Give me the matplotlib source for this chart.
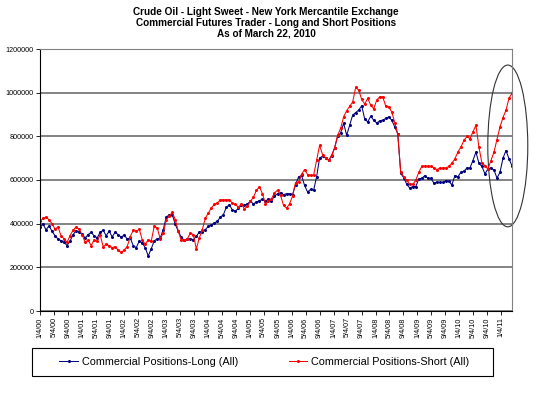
import numpy as np
import matplotlib
matplotlib.use("Agg")
import matplotlib.pyplot as plt
from matplotlib.patches import Ellipse, Rectangle
from matplotlib.ticker import MultipleLocator, StrMethodFormatter

plt.rcParams['font.family'] = ['Liberation Sans', 'DejaVu Sans']

title = ("Crude Oil - Light Sweet - New York Mercantile Exchange\n"
         "Commercial Futures Trader - Long and Short Positions\n"
         "As of March 22, 2010")

date_labels = ["1/4/00", "5/4/00", "9/4/00", "1/4/01", "5/4/01", "9/4/01",
               "1/4/02", "5/4/02", "9/4/02", "1/4/03", "5/4/03", "9/4/03",
               "1/4/04", "5/4/04", "9/4/04", "1/4/05", "5/4/05", "9/4/05",
               "1/4/06", "5/4/06", "9/4/06", "1/4/07", "5/4/07", "9/4/07",
               "1/4/08", "5/4/08", "9/4/08", "1/4/09", "5/4/09", "9/4/09",
               "1/4/10", "5/4/10", "9/4/10", "1/4/11"]

# positions in thousands of contracts
long_pos = [385, 398, 372, 390, 365, 345, 330, 322, 315, 300,
            320, 350, 368, 360, 352, 335, 350, 360, 345, 335,
            360, 370, 345, 365, 340, 360, 350, 338, 348, 330,
            335, 300, 290, 320, 312, 290, 252, 285, 322, 330,
            335, 373, 430, 441, 441, 397, 365, 338, 323, 330,
            330, 327, 342, 362, 364, 373, 388, 394, 403, 411,
            430, 441, 476, 486, 463, 458, 470, 485, 484, 491,
            502, 491, 499, 506, 511, 502, 514, 506, 526, 537,
            542, 533, 537, 537, 533, 579, 614, 621, 575, 545,
            557, 552, 614, 701, 709, 701, 690, 710, 747, 801,
            815, 860, 805, 851, 897, 909, 920, 940, 880, 866,
            892, 874, 861, 871, 874, 882, 889, 874, 843, 812,
            630, 610, 580, 563, 570, 570, 605, 608, 620, 608,
            607, 587, 590, 589, 589, 597, 594, 578, 620, 615,
            635, 640, 655, 655, 689, 728, 677, 662, 628, 651,
            655, 646, 609, 635, 700, 735, 697, 665]

short_pos = [410, 425, 430, 418, 400, 375, 385, 345, 330, 315,
             345, 370, 385, 375, 350, 315, 325, 300, 325, 320,
             350, 295, 305, 300, 290, 295, 278, 268, 280, 295,
             340, 370, 365, 375, 327, 305, 327, 320, 388, 380,
             330, 357, 418, 435, 452, 418, 365, 323, 324, 330,
             357, 350, 285, 335, 373, 426, 448, 473, 488, 495,
             509, 509, 509, 509, 494, 488, 475, 490, 468, 480,
             502, 522, 553, 568, 537, 491, 502, 514, 542, 553,
             530, 484, 471, 491, 526, 588, 591, 626, 648, 625,
             621, 621, 690, 759, 716, 701, 690, 713, 747, 805,
             836, 890, 917, 938, 957, 1024, 1012, 969, 948, 974,
             943, 926, 966, 981, 981, 938, 935, 912, 863, 809,
             635, 615, 598, 580, 580, 600, 635, 662, 664, 663,
             662, 655, 648, 655, 655, 655, 662, 677, 697, 728,
             751, 781, 800, 789, 820, 851, 751, 677, 666, 650,
             689, 728, 785, 843, 886, 920, 974, 997]

long_pos = np.array(long_pos) * 1000
short_pos = np.array(short_pos) * 1000
x = np.arange(len(long_pos))

fig = plt.figure(figsize=(5.45, 3.98), dpi=100)
ax = fig.add_axes([40 / 545, 87 / 398, 472 / 545, 262 / 398])

ax.plot(x, long_pos, color='#000080', lw=0.75, marker='o', ms=1.2,
        label='Commercial Positions-Long (All)')
ax.plot(x, short_pos, color='#ff0000', lw=0.75, marker='o', ms=1.2,
        label='Commercial Positions-Short (All)')

ax.set_ylim(0, 1200000)
ax.set_xlim(0, len(x) - 1)
ax.yaxis.set_major_locator(MultipleLocator(200000))
ax.yaxis.set_major_formatter(StrMethodFormatter('{x:.0f}'))
ax.grid(axis='y', color='#7a7a7a', lw=1.3)
ax.set_axisbelow(True)

tick_step = 4.65
ax.set_xticks(np.arange(len(date_labels)) * tick_step)
ax.set_xticklabels(date_labels, rotation=90)
ax.tick_params(axis='both', labelsize=5.2, length=3, width=0.6, pad=1.5)

for s in ('top', 'right'):
    ax.spines[s].set_color('#808080')
for s in ('left', 'bottom'):
    ax.spines[s].set_color('black')
    ax.spines[s].set_linewidth(0.8)

fig.text(266 / 545, 1 - 23 / 398, title, ha='center', va='center',
         fontsize=7.2, fontweight='bold', linespacing=1.1)

# circle around the last months
ax.add_patch(Ellipse((155.6, 756000), 13.3, 741000, fill=False,
                     ec='#333333', lw=0.8, clip_on=False))

handles, labels = ax.get_legend_handles_labels()
fig.legend(handles, labels, loc='center', bbox_to_anchor=(264.5 / 545, 1 - 362 / 398),
           ncol=2, frameon=False, fontsize=7.8, handlelength=1.7,
           columnspacing=4.7, handletextpad=0.37)
fig.add_artist(Rectangle((32 / 545, 22 / 398), 461 / 545, 28 / 398,
                         transform=fig.transFigure, fill=False, ec='black', lw=0.8))

fig.savefig('out.png', dpi=100)
